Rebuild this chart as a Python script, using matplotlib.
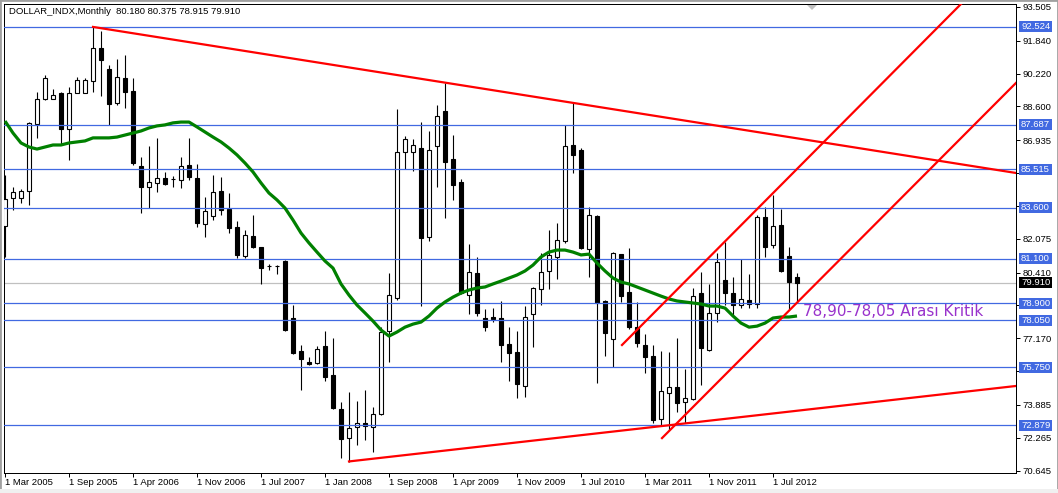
import matplotlib
matplotlib.use("Agg")
import matplotlib.pyplot as plt
import matplotlib.transforms as mtrans
from matplotlib.patches import Rectangle, Polygon
import numpy as np

# ---------------- data ----------------
opens = [82.71, 84.09, 84.09, 84.43, 87.74, 88.97, 88.97, 89.26, 87.49, 89.26,
         89.26, 89.86, 91.48, 90.45, 88.77, 90.00, 89.36, 85.66, 84.63, 84.83,
         85.07, 85.02, 84.97, 85.71, 85.07, 82.80, 83.20, 84.43, 83.54, 82.66,
         81.23, 82.21, 81.67, 80.73, 80.73, 80.98, 78.17, 76.54, 76.00, 75.95,
         76.79, 75.36, 73.68, 72.25, 72.79, 72.99, 72.79, 73.44, 77.53, 79.16,
         86.35, 86.35, 86.55, 82.16, 86.65, 88.38, 86.01, 84.88, 79.30, 80.39,
         78.17, 78.22, 78.17, 76.89, 76.49, 74.82, 78.37, 79.60, 80.49, 81.18,
         81.97, 86.70, 86.45, 81.57, 83.20, 79.01, 77.13, 81.32, 79.45, 77.72,
         76.84, 76.30, 73.19, 74.47, 74.77, 74.03, 74.18, 79.40, 76.59, 78.42,
         80.04, 79.40, 78.81, 79.06, 78.86, 83.15, 81.77, 82.76, 81.23, 80.18]
highs = [85.22, 84.63, 84.53, 87.83, 89.31, 90.15, 89.46, 89.31, 89.56, 90.05,
         90.00, 92.52, 92.32, 90.64, 90.94, 91.14, 90.00, 86.11, 86.65, 87.05,
         85.37, 85.17, 86.11, 87.05, 85.76, 84.14, 85.22, 85.12, 84.33, 82.95,
         82.51, 83.25, 81.67, 80.83, 80.78, 81.03, 78.81, 76.84, 76.25, 76.79,
         77.53, 77.18, 74.03, 74.52, 74.08, 74.62, 73.78, 77.72, 80.39, 88.47,
         87.14, 87.00, 87.83, 87.39, 88.67, 89.76, 87.19, 85.02, 81.82, 81.18,
         78.61, 78.66, 79.01, 77.72, 77.53, 78.76, 79.70, 81.37, 82.51, 82.85,
         87.69, 88.77, 86.55, 83.64, 83.25, 79.05, 81.42, 81.35, 81.62, 78.96,
         77.38, 76.84, 76.54, 76.49, 77.18, 75.66, 79.65, 80.44, 79.85, 81.37,
         81.92, 80.19, 81.08, 80.34, 83.25, 83.64, 84.23, 83.54, 81.67, 80.375]
lows = [81.18, 83.49, 83.84, 83.74, 87.05, 88.92, 88.95, 86.70, 85.96, 89.24,
        89.24, 89.31, 89.12, 87.69, 88.67, 88.52, 85.71, 83.35, 83.59, 84.38,
        84.73, 84.63, 84.58, 84.97, 82.66, 82.16, 83.00, 83.25, 82.36, 81.13,
        81.13, 81.62, 79.85, 80.54, 80.34, 77.53, 76.39, 74.62, 75.85, 75.90,
        75.06, 73.68, 71.27, 71.07, 71.91, 72.15, 71.56, 73.39, 76.00, 79.06,
        85.52, 85.42, 78.76, 81.97, 84.63, 83.10, 83.99, 79.35, 78.37, 78.27,
        77.53, 77.97, 76.00, 75.06, 74.23, 74.27, 76.74, 78.81, 79.60, 80.09,
        81.87, 85.32, 81.57, 80.19, 74.96, 76.30, 75.75, 78.96, 77.63, 76.74,
        75.46, 72.99, 72.89, 72.65, 73.53, 72.99, 74.13, 74.87, 76.54, 77.97,
        78.81, 78.32, 78.66, 78.66, 78.66, 81.18, 81.62, 80.45, 78.61, 78.915]
closes = [84.04, 84.38, 84.43, 87.79, 88.97, 90.00, 89.17, 87.49, 89.26, 89.91,
          89.91, 91.48, 90.89, 88.72, 90.05, 89.31, 85.81, 84.63, 84.88, 85.07,
          84.78, 85.00, 85.66, 85.12, 82.85, 83.45, 84.38, 83.49, 82.61, 81.28,
          82.26, 81.67, 80.63, 80.71, 80.71, 77.58, 76.44, 76.15, 75.90, 76.64,
          75.26, 73.73, 72.20, 72.75, 72.99, 72.84, 73.44, 77.48, 79.30, 86.35,
          87.00, 86.70, 82.11, 86.45, 88.13, 85.86, 84.73, 79.40, 80.44, 78.42,
          77.72, 78.12, 76.84, 76.44, 74.91, 78.22, 79.65, 80.44, 81.28, 82.02,
          86.65, 86.21, 81.62, 83.25, 78.91, 77.43, 81.37, 79.25, 77.72, 76.94,
          76.25, 73.14, 74.57, 74.77, 73.98, 74.23, 79.25, 76.69, 78.42, 80.93,
          79.40, 78.81, 79.11, 78.86, 83.15, 81.67, 82.71, 80.49, 79.94, 79.91]
ma = [87.88, 87.29, 86.80, 86.60, 86.50, 86.60, 86.70, 86.70, 86.80, 86.85,
      86.90, 87.05, 87.05, 87.05, 87.09, 87.19, 87.29, 87.39, 87.54, 87.64,
      87.69, 87.79, 87.83, 87.83, 87.59, 87.34, 87.09, 86.85, 86.55, 86.21,
      85.81, 85.37, 84.83, 84.33, 83.99, 83.59, 83.00, 82.36, 81.87, 81.42,
      80.98, 80.63, 79.85, 79.30, 78.81, 78.42, 78.02, 77.58, 77.28, 77.48,
      77.72, 77.87, 77.97, 78.27, 78.66, 78.96, 79.20, 79.40, 79.55, 79.65,
      79.70, 79.85, 79.99, 80.14, 80.29, 80.49, 80.78, 81.18, 81.42, 81.52,
      81.52, 81.42, 81.28, 81.32, 80.88, 80.49, 80.14, 79.94, 79.85, 79.70,
      79.55, 79.40, 79.25, 79.11, 79.01, 78.96, 78.91, 78.86, 78.76, 78.76,
      78.66, 78.27, 77.92, 77.72, 77.77, 77.92, 78.17, 78.22, 78.22, 78.27]

date_labels = ["1 Mar 2005", "1 Sep 2005", "1 Apr 2006", "1 Nov 2006", "1 Jul 2007",
               "1 Jan 2008", "1 Sep 2008", "1 Apr 2009", "1 Nov 2009", "1 Jul 2010",
               "1 Mar 2011", "1 Nov 2011", "1 Jul 2012"]
date_label_bars = [0, 8, 16, 24, 32, 40, 48, 56, 64, 72, 80, 88, 96]

price_ticks = [93.505, 91.840, 90.220, 88.600, 86.935, 85.315, 83.695, 82.075,
               80.410, 78.790, 77.170, 75.550, 73.885, 72.265, 70.645]
# scale labels that sit under a highlighted level label are not shown
hidden_ticks = [85.315, 83.695, 78.790, 75.550]
level_lines = [92.524, 87.687, 85.515, 83.600, 81.100, 78.900, 78.050, 75.750, 72.879]
current_price = 79.910

# trend lines: (bar index, price) endpoints
trend_lines = [
    ((11.0, 92.52), (126.375, 85.32)),
    ((43.0, 71.10), (126.375, 74.82)),
    ((77.125, 76.84), (119.5, 93.65)),
    ((82.125, 72.25), (126.375, 89.76)),
]
note_text = "78,90-78,05 Arası Kritik"
note_pos = (99.75, 78.47)
title_text = "DOLLAR_INDX,Monthly  80.180 80.375 78.915 79.910"

# ---------------- figure ----------------
W, H = 1058, 493
fig = plt.figure(figsize=(W / 100, H / 100), dpi=100)
fig.patch.set_facecolor("white")
ax = fig.add_axes([4 / W, 20 / H, 1012 / W, 469 / H])
ax.set_facecolor("white")
ax.set_xlim(-0.125, 126.375)
ax.set_ylim(70.53, 93.65)

SMALL = ["Liberation Sans", "DejaVu Sans"]
px = 0.72

for s in ax.spines.values():
    s.set_linewidth(px)
    s.set_color("black")

n = len(opens)
idx = np.arange(n)
o = np.array(opens); c = np.array(closes); h = np.array(highs); l = np.array(lows)

# wicks
ax.vlines(idx, l, h, color="black", lw=0.8, zorder=2)
# bodies
up = c >= o
bw = 0.6
bottoms = np.minimum(o, c)
heights = np.abs(c - o)
ax.bar(idx[up], heights[up], bottom=bottoms[up], width=bw, facecolor="white",
       edgecolor="black", lw=0.8, zorder=3)
ax.bar(idx[~up], heights[~up], bottom=bottoms[~up], width=bw, facecolor="black",
       edgecolor="black", lw=0.8, zorder=3)

# level lines
for lv in level_lines:
    ax.axhline(lv, color="#4169E1", lw=0.9, zorder=3.5)
ax.axhline(current_price, color="#C0C0C0", lw=0.9, zorder=1.8)

# moving average
ax.plot(idx, ma, color="#008000", lw=2.3, zorder=4, solid_capstyle="butt")

# trend lines
for (x0, y0), (x1, y1) in trend_lines:
    ax.plot([x0, x1], [y0, y1], color="#FF0000", lw=1.6, zorder=5)

ax.text(note_pos[0], note_pos[1], note_text, color="#9932CC", fontsize=11,
        family=["DejaVu Sans"], va="center", ha="left", zorder=6)

# y axis ticks
ax.yaxis.tick_right()
ax.set_yticks(price_ticks)
ax.set_yticklabels(["" if v in hidden_ticks else f"{v:.3f}" for v in price_ticks],
                   family=SMALL, fontsize=6.8)
ax.tick_params(axis="y", direction="out", length=3, width=px, pad=1.5, colors="black")

# x axis ticks
ax.set_xticks(date_label_bars)
ax.set_xticklabels([""] * len(date_label_bars))
ax.tick_params(axis="x", direction="out", length=3, width=px)
for b, lab in zip(date_label_bars, date_labels):
    ax.annotate(lab, xy=(b, 0), xycoords=("data", "axes fraction"),
                xytext=(0, -6.6), textcoords="offset points", ha="left",
                va="center", fontsize=6.8, family=SMALL, annotation_clip=False)

# highlighted price labels
trans = mtrans.blended_transform_factory(ax.transAxes, ax.transData)
ppu = 469 / (93.65 - 70.53)  # pixels per price unit
box_h = 11 / ppu
bx0 = 1 + 3 / 1012
bwid = 33 / 1012
for lv in level_lines:
    ax.add_patch(Rectangle((bx0, lv - box_h / 2), bwid, box_h, transform=trans,
                           facecolor="#4169E1", edgecolor="none", clip_on=False, zorder=7))
    ax.text(1 + 5 / 1012, lv, f"{lv:.3f}", transform=trans, color="white",
            fontsize=6.8, family=SMALL, va="center", ha="left", clip_on=False, zorder=8)
ax.add_patch(Rectangle((bx0, current_price - box_h / 2), bwid, box_h, transform=trans,
                       facecolor="black", edgecolor="none", clip_on=False, zorder=7))
ax.text(1 + 5 / 1012, current_price, f"{current_price:.3f}", transform=trans, color="white",
        fontsize=6.8, family=SMALL, va="center", ha="left", clip_on=False, zorder=8)

# title
fig.text(9 / W, 1 - 12 / H, title_text, fontsize=6.8, family=SMALL, va="center", ha="left")

# small shift marker triangle
fig.add_artist(Polygon([[807 / W, 1 - 5 / H], [817 / W, 1 - 5 / H], [812 / W, 1 - 10 / H]],
                       closed=True, facecolor="#C0C0C0", edgecolor="none",
                       transform=fig.transFigure))
# outer window border
fig.add_artist(Rectangle((0, 0), 1, 1, transform=fig.transFigure, fill=False,
                         edgecolor="#A0A0A0", lw=2))
fig.add_artist(Rectangle((0, 0), 1, 4 / H, transform=fig.transFigure,
                         facecolor="#F0F0F0", edgecolor="none"))

fig.savefig("out.png", dpi=100)
